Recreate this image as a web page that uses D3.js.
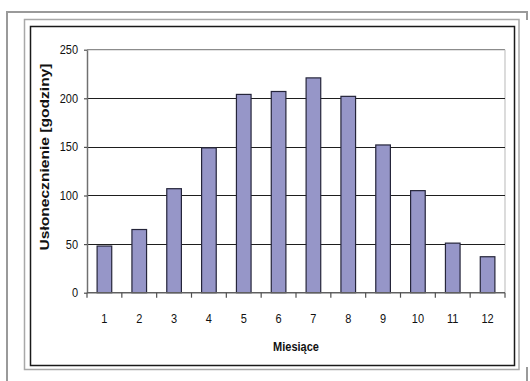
<!DOCTYPE html>
<html>
<head>
<meta charset="utf-8">
<script src="https://cdn.jsdelivr.net/npm/d3@7"></script>
<style>
  html, body { margin: 0; padding: 0; background: #fff; }
  svg { display: block; }
  text { font-family: "Liberation Sans", Arial, sans-serif; fill: #111; }
</style>
</head>
<body>
<svg id="chart" width="530" height="381"></svg>
<script>
// Monthly sunshine duration (hours)
const months = ["1", "2", "3", "4", "5", "6", "7", "8", "9", "10", "11", "12"];
const sunshineHours = [48, 65, 107, 149, 204, 207, 221, 202, 152, 105, 51, 37];
const yTicks = [0, 50, 100, 150, 200, 250];
const xTitle = "Miesiące";
const yTitle = "Usłonecznienie [godziny]";

const svg = d3.select("#chart");
const plot = { left: 87, right: 505, top: 49.7, bottom: 292.7 };
const stretch = 1.2; // text is drawn slightly taller than wide

// Frames around the chart
svg.append("path")
  .attr("d", "M7,381V12H527V20M527,367V381")
  .attr("fill", "none").attr("stroke", "#9a9a9a").attr("stroke-width", 2);
svg.append("rect")
  .attr("x", 24.5).attr("y", 19.5).attr("width", 494.5).attr("height", 350)
  .attr("fill", "none").attr("stroke", "#a8a8a8").attr("stroke-width", 1.5);
svg.append("rect")
  .attr("x", 30.5).attr("y", 26.5).attr("width", 484).attr("height", 339)
  .attr("fill", "none").attr("stroke", "#1a1a1a").attr("stroke-width", 1.5);

const x = d3.scaleBand()
  .domain(months)
  .range([plot.left, plot.right])
  .paddingInner(0.58)
  .paddingOuter(0.29);

const y = d3.scaleLinear()
  .domain([0, 250])
  .range([plot.bottom, plot.top]);

// Plot area border (top and right)
svg.append("line")
  .attr("x1", plot.left).attr("x2", plot.right)
  .attr("y1", y(250)).attr("y2", y(250))
  .attr("stroke", "#8c8c8c").attr("stroke-width", 1.2);
svg.append("line")
  .attr("x1", plot.right).attr("x2", plot.right)
  .attr("y1", y(250)).attr("y2", y(0))
  .attr("stroke", "#c4c4c4").attr("stroke-width", 1.2);

// Horizontal gridlines
svg.append("g")
  .selectAll("line")
  .data(yTicks.filter(v => v > 0 && v < 250))
  .join("line")
  .attr("x1", plot.left).attr("x2", plot.right)
  .attr("y1", d => Math.round(y(d)) + 0.5).attr("y2", d => Math.round(y(d)) + 0.5)
  .attr("stroke", "#1e1e1e").attr("stroke-width", 1.2);

// Bars
svg.append("g")
  .selectAll("rect")
  .data(months.map((m, i) => ({ m, v: sunshineHours[i] })))
  .join("rect")
  .attr("x", d => x(d.m))
  .attr("y", d => y(d.v))
  .attr("width", x.bandwidth())
  .attr("height", d => y(0) - y(d.v))
  .attr("fill", "#9696c8")
  .attr("stroke", "#25253a")
  .attr("stroke-width", 1.2);

// Y axis
const yAxis = svg.append("g")
  .attr("transform", `translate(${plot.left},0)`)
  .call(d3.axisLeft(y).tickValues(yTicks).tickSize(3).tickPadding(6).tickSizeOuter(0));
yAxis.select(".domain").attr("stroke", "#707070").attr("stroke-width", 1.5);
yAxis.selectAll(".tick line").attr("stroke", "#505050").attr("stroke-width", 1.2);
yAxis.selectAll(".tick text")
  .attr("font-size", 11)
  .attr("font-family", "Liberation Sans, Arial, sans-serif")
  .attr("dy", null)
  .attr("y", 3.3)
  .attr("transform", `scale(1,${stretch})`);

// X axis: ticks on category boundaries, labels at category centres
const xAxisG = svg.append("g").attr("transform", `translate(0,${plot.bottom})`);
xAxisG.append("line")
  .attr("x1", plot.left).attr("x2", plot.right)
  .attr("stroke", "#606060").attr("stroke-width", 1.5);
const boundaries = months.map(m => x(m) - x.step() * x.paddingInner() / 2);
boundaries.push(plot.right);
xAxisG.selectAll("line.tick")
  .data(boundaries)
  .join("line")
  .attr("class", "tick")
  .attr("x1", d => d).attr("x2", d => d)
  .attr("y1", 0).attr("y2", 5)
  .attr("stroke", "#505050").attr("stroke-width", 1.2);
xAxisG.selectAll("text")
  .data(months)
  .join("text")
  .attr("transform", d => `translate(${x(d) + x.bandwidth() / 2},0) scale(1,${stretch})`)
  .attr("y", 25)
  .attr("text-anchor", "middle")
  .attr("font-size", 11)
  .text(d => d);

// Axis titles
svg.append("text")
  .attr("transform", `translate(296,351) scale(1,${stretch})`)
  .attr("text-anchor", "middle")
  .attr("font-size", 11)
  .attr("font-weight", "bold")
  .text(xTitle);

svg.append("text")
  .attr("transform", `translate(49,157) rotate(-90) scale(${stretch},1)`)
  .attr("text-anchor", "middle")
  .attr("font-size", 13)
  .attr("font-weight", "bold")
  .text(yTitle);
</script>
</body>
</html>
